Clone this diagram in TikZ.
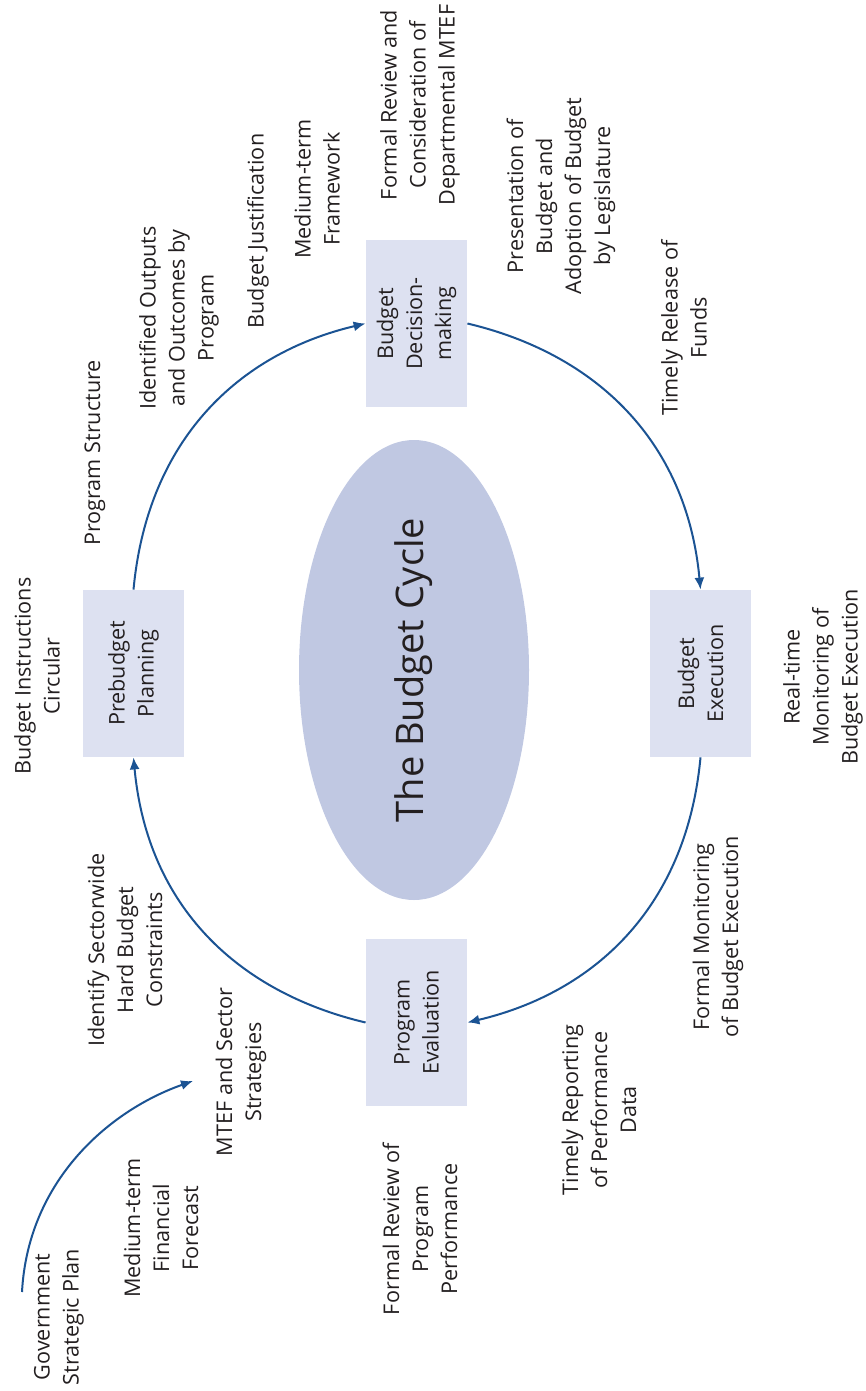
\documentclass[tikz,border=0pt]{standalone}
\usepackage{fontspec}
\setmainfont{Open Sans}
\usetikzlibrary{arrows.meta,shapes.geometric}
\definecolor{boxfill}{HTML}{DDE1F1}
\definecolor{ovalfill}{HTML}{C0C8E2}
\definecolor{flow}{HTML}{1B5393}
\definecolor{ink}{HTML}{231F20}

\begin{document}
\begin{tikzpicture}[x=0.5pt,y=-0.5pt,
  every node/.style={text=ink},
  stage/.style={rotate=90, fill=boxfill, minimum width=83.5pt, minimum height=50.5pt,
    inner sep=0pt, align=center, font=\fontsize{10.8}{14.5}\selectfont},
  note/.style={rotate=90, align=center, inner sep=0pt, font=\fontsize{10.8}{14.5}\selectfont},
  flowline/.style={draw=flow, line width=1pt, -{Latex[length=6pt,width=5pt]}},
]
\useasboundingbox (0,0) rectangle (866,1391);

% central oval
\node[ellipse, rotate=90, fill=ovalfill, minimum width=230pt, minimum height=115pt,
  inner sep=0pt, font=\fontsize{19}{23}\selectfont] (cycle) at (414,670) {The Budget Cycle};

% the four stages
\node[stage] (pre)  at (133.5,673.5) {Prebudget\\Planning};
\node[stage] (dec)  at (416.5,323.5) {Budget\\Decision-\\making};
\node[stage] (exe)  at (700.5,673.5) {Budget\\Execution};
\node[stage] (eval) at (416.5,1022.5) {Program\\Evaluation};

% cycle arrows
\draw[flowline] (pre.east) .. controls +(14,-150) and +(-127,30) .. (dec.north);
\draw[flowline] (dec.south) .. controls +(127,30) and +(-14,-150) .. (exe.east);
\draw[flowline] (exe.west) .. controls +(-14,150) and +(127,-30) .. (eval.south);
\draw[flowline] (eval.north) .. controls +(-127,-30) and +(14,150) .. (pre.west);

% feed from the strategic plan
\coordinate (planstart) at (22,1292);
\coordinate (planend) at (193,1081);
\draw[flowline] (planstart) .. controls +(6,-112) and +(-83,29) .. (planend);

% annotations
\node[note] (bic) at (37,676) {Budget Instructions\\Circular};
\node[note] (ps)  at (95,453) {Program Structure};
\node[note] (ioo) at (179,318) {Identified Outputs\\and Outcomes by\\Program};
\node[note] (bj)  at (258,231) {Budget Justification};
\node[note] (mtf) at (317,189) {Medium-term\\Framework};
\node[note] (frc) at (420,105) {Formal Review and\\Consideration of\\Departmental MTEF};
\node[note] (pab) at (561,196) {Presentation of\\Budget and\\Adoption of Budget\\by Legislature};
\node[note] (trf) at (684,328) {Timely Release of\\Funds};
\node[note] (rtm) at (823,677) {Real-time\\Monitoring of\\Budget Execution};
\node[note] (fmb) at (718,937) {Formal Monitoring\\of Budget Execution};
\node[note] (trp) at (599,1110) {Timely Reporting\\of Performance\\Data};
\node[note] (frp) at (420,1229) {Formal Review of\\Program\\Performance};
\node[note] (ihb) at (125,950) {Identify Sectorwide\\Hard Budget\\Constraints};
\node[note] (mss) at (241,1072) {MTEF and Sector\\Strategies};
\node[note] (mff) at (161,1228) {Medium-term\\Financial\\Forecast};
\node[note] (gsp) at (59,1317) {Government\\Strategic Plan};
\end{tikzpicture}
\end{document}
